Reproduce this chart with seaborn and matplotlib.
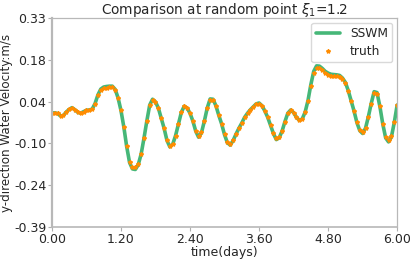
import numpy as np
import pandas as pd
import matplotlib
matplotlib.use("Agg")
import matplotlib.pyplot as plt
import seaborn as sns

time_days = [round(i * 0.05, 2) for i in range(121)]

sswm = [
    0.003, 0.003, 0.001, -0.008, -0.006, 0.006, 0.015, 0.021, 0.014, 0.005,
    0.002, 0.007, 0.012, 0.013, 0.016, 0.035, 0.065, 0.085, 0.092, 0.094,
    0.095, 0.095, 0.084, 0.055, 0.012, -0.045, -0.113, -0.168, -0.190, -0.192,
    -0.176, -0.140, -0.085, -0.025, 0.030, 0.050, 0.041, 0.020, -0.015, -0.050,
    -0.092, -0.114, -0.105, -0.075, -0.035, 0.005, 0.026, 0.020, 0.002, -0.025,
    -0.060, -0.081, -0.065, -0.025, 0.020, 0.051, 0.050, 0.028, -0.005, -0.035,
    -0.072, -0.100, -0.108, -0.092, -0.070, -0.050, -0.032, -0.012, 0.002, 0.014,
    0.024, 0.034, 0.037, 0.028, 0.010, -0.012, -0.040, -0.068, -0.089, -0.083,
    -0.060, -0.027, 0.002, 0.013, 0.004, -0.012, -0.023, -0.018, 0.005, 0.045,
    0.100, 0.146, 0.165, 0.164, 0.156, 0.146, 0.140, 0.136, 0.135, 0.134,
    0.132, 0.123, 0.108, 0.080, 0.045, 0.010, -0.030, -0.058, -0.068, -0.050,
    -0.010, 0.036, 0.076, 0.073, 0.025, -0.035, -0.083, -0.097, -0.080, -0.030,
    0.030,
]

truth = [
    0.003, 0.003, 0.001, -0.008, -0.006, 0.006, 0.015, 0.021, 0.014, 0.005,
    0.002, 0.007, 0.012, 0.013, 0.016, 0.035, 0.064, 0.083, 0.089, 0.090,
    0.091, 0.091, 0.082, 0.055, 0.012, -0.045, -0.112, -0.165, -0.184, -0.185,
    -0.172, -0.139, -0.085, -0.025, 0.030, 0.047, 0.040, 0.020, -0.015, -0.050,
    -0.091, -0.110, -0.103, -0.075, -0.035, 0.005, 0.025, 0.019, 0.002, -0.025,
    -0.059, -0.077, -0.063, -0.025, 0.020, 0.048, 0.048, 0.028, -0.005, -0.035,
    -0.071, -0.097, -0.104, -0.090, -0.070, -0.050, -0.032, -0.012, 0.002, 0.014,
    0.024, 0.033, 0.035, 0.027, 0.010, -0.012, -0.040, -0.067, -0.085, -0.080,
    -0.059, -0.027, 0.002, 0.012, 0.004, -0.012, -0.022, -0.017, 0.005, 0.044,
    0.097, 0.140, 0.156, 0.156, 0.149, 0.140, 0.134, 0.131, 0.130, 0.129,
    0.128, 0.120, 0.106, 0.080, 0.045, 0.010, -0.030, -0.056, -0.064, -0.049,
    -0.010, 0.035, 0.070, 0.068, 0.025, -0.034, -0.080, -0.092, -0.078, -0.030,
    0.030,
]

x_ticks = [0.00, 1.20, 2.40, 3.60, 4.80, 6.00]
x_labels = ["0.00", "1.20", "2.40", "3.60", "4.80", "6.00"]
y_ticks = [-0.39, -0.246, -0.102, 0.042, 0.186, 0.33]
y_labels = ["-0.39", "-0.24", "-0.10", "0.04", "0.18", "0.33"]

df = pd.DataFrame({"t": time_days, "sswm": sswm, "truth": truth})

sns.set_style("white")
plt.rcParams['font.family'] = ['DejaVu Sans']

fig = plt.figure(figsize=(4.15, 2.6), dpi=100)
ax = fig.add_axes([0.125, 0.127, 0.832, 0.804])

sns.lineplot(data=df, x="t", y="sswm", ax=ax, color="#3cb371", linewidth=2.6,
             label="SSWM", alpha=0.95)
ax.plot(df["t"], df["truth"], linestyle="none", marker="*", markersize=3.0,
        color="#ff8c00", label="truth")

ax.set_xlim(0, 6)
ax.set_ylim(-0.39, 0.33)
ax.set_xticks(x_ticks)
ax.set_xticklabels(x_labels)
ax.set_yticks(y_ticks)
ax.set_yticklabels(y_labels)
ax.tick_params(axis="both", labelsize=9, length=3, width=0.8, color="#b0b0b0",
               pad=1, left=True, bottom=True)
ax.set_xlabel("time(days)", fontsize=9, labelpad=0)
ax.set_ylabel("y-direction Water Velocity:m/s", fontsize=8.6, labelpad=1)
ax.set_title(r"Comparison at random point $\xi_1$=1.2", fontsize=9.8, pad=3)

for name, sp in ax.spines.items():
    sp.set_color("#b8b8b8")
    sp.set_linewidth(0.9)
ax.spines["left"].set_linewidth(1.6)
ax.spines["bottom"].set_linewidth(1.2)

leg = ax.legend(loc="upper right", fontsize=8.8, frameon=True, borderpad=0.35,
                handlelength=2.0, labelspacing=0.4, borderaxespad=0.4,
                handletextpad=0.8)
leg.get_frame().set_edgecolor("#d0d0d0")

fig.savefig("out.png", dpi=100)
